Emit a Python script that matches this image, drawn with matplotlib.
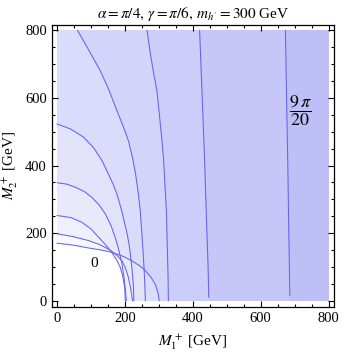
import numpy as np
import matplotlib
matplotlib.use('Agg')
import matplotlib.pyplot as plt
from matplotlib.path import Path
from matplotlib.colors import ListedColormap

# contour curves (M1, M2 in GeV)
c1_m1 = [0, 50, 92, 130, 161, 195, 220, 242, 260, 276, 289, 297, 301]
c1_m2 = [170, 164, 156, 150, 143, 131, 118, 104, 89, 70, 49, 25, 0]
c2_m1 = [0, 45, 92, 125, 156, 176, 191, 202, 210, 217, 222]
c2_m2 = [198, 190, 178, 166, 150, 134, 118, 95, 69, 35, 0]
c3_m1 = [0, 40, 73, 100, 122, 143, 161, 175, 186, 194, 199, 201]
c3_m2 = [252, 246, 232, 212, 188, 165, 143, 121, 99, 70, 40, 0]
c4_m1 = [0, 28, 53, 80, 102, 124, 142, 158, 171, 182, 191, 197, 201, 204]
c4_m2 = [349, 345, 336, 323, 306, 283, 257, 224, 188, 149, 109, 70, 35, 0]
c5_m1 = [0, 40, 78, 108, 132, 151, 165, 176, 185, 193, 200, 207, 213, 218, 222, 225, 226]
c5_m2 = [523, 508, 484, 452, 415, 375, 345, 316, 285, 255, 225, 195, 160, 120, 80, 40, 0]
c6_m1 = [60, 92, 127, 153, 176, 195, 210, 222, 231, 239, 245, 249, 253, 256, 258, 260]
c6_m2 = [800, 744, 681, 623, 563, 515, 474, 425, 376, 320, 267, 210, 150, 100, 60, 0]
c7_m1 = [265, 272, 280, 287, 294, 302, 309, 314, 318, 322, 325, 327, 328]
c7_m2 = [800, 750, 700, 660, 622, 545, 474, 415, 340, 267, 150, 70, 0]
c8_m1 = [420, 427, 434, 440, 445, 447]
c8_m2 = [800, 620, 435, 250, 100, 10]
c9_m1 = [673, 676, 680, 683, 686]
c9_m2 = [800, 620, 405, 200, 15]

curves = [(c1_m1, c1_m2), (c2_m1, c2_m2), (c3_m1, c3_m2), (c4_m1, c4_m2),
          (c5_m1, c5_m2), (c6_m1, c6_m2), (c7_m1, c7_m2), (c8_m1, c8_m2),
          (c9_m1, c9_m2)]

plt.rcParams['font.family'] = ['Liberation Serif', 'DejaVu Serif']
plt.rcParams['mathtext.fontset'] = 'stix'

fig = plt.figure(figsize=(3.6, 3.55), dpi=100)
ax = fig.add_axes([0.1436, 0.136, 0.784, 0.7935])

# count how many curves each grid point lies beyond -> level k*pi/20
g = np.linspace(0, 800, 801)
gx, gy = np.meshgrid(g, g)
pts = np.column_stack([gx.ravel(), gy.ravel()])
level = np.zeros(gx.size)
for xs, ys in curves:
    poly = list(zip(xs, ys))
    poly += [(xs[-1], -50), (-50, -50)]
    if ys[0] >= 800:
        poly += [(-50, 850), (xs[0], 850)]
    else:
        poly += [(-50, ys[0])]
    inside = Path(poly).contains_points(pts)
    level += ~inside
level = level.reshape(gx.shape)

shades = [(1 - k * 0.0275, 1 - k * 0.0275, 1 - k * 0.003) for k in range(10)]
ax.imshow(level, origin='lower', extent=[0, 800, 0, 800], cmap=ListedColormap(shades),
          vmin=-0.5, vmax=9.5, interpolation='nearest', aspect='auto')

for xs, ys in curves:
    ax.plot(xs, ys, color='#6262f4', lw=0.75)

ax.text(108, 109, '0', fontsize=11, ha='center', va='center')
ax.text(716, 562, r'$\dfrac{9\,\pi}{20}$', fontsize=13, ha='center', va='center')

ax.set_xlim(-16, 816)
ax.set_ylim(-18, 816)
ax.set_xticks([0, 200, 400, 600, 800])
ax.set_yticks([0, 200, 400, 600, 800])
ax.set_xticks(np.arange(0, 801, 50), minor=True)
ax.set_yticks(np.arange(0, 801, 50), minor=True)
ax.tick_params(which='both', direction='in', top=True, right=True, labelsize=10.5, width=0.8)
ax.tick_params(which='major', length=4)
ax.tick_params(which='minor', length=2.2)
for s in ax.spines.values():
    s.set_linewidth(0.9)

ax.set_xlabel(r'$M_1^+$ [GeV]', fontsize=11, labelpad=5)
ax.set_ylabel(r'$M_2^+$ [GeV]', fontsize=11, labelpad=4)
ax.set_title(r'$\alpha = \pi/4,\, \gamma = \pi/6,\, m_{h^{\prime}} = 300$ GeV', fontsize=11, pad=5)

fig.savefig('out.png', dpi=100)
